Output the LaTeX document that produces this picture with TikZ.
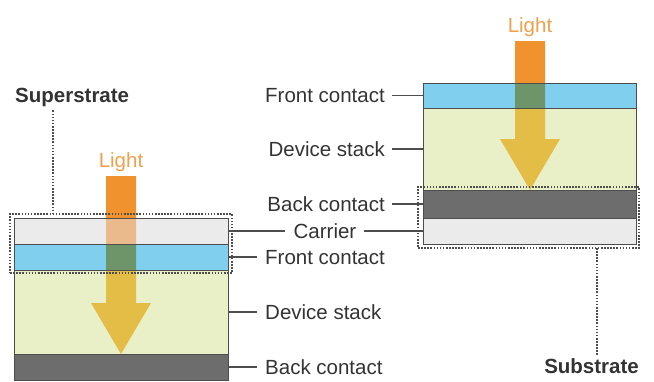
\documentclass[tikz,border=0pt]{standalone}
\usepackage{fontspec}
\setmainfont{Liberation Sans}
\usetikzlibrary{calc}

\definecolor{carrierc}{HTML}{EBEBEB}
\definecolor{frontc}{HTML}{80CFEF}
\definecolor{devc}{HTML}{E9EFC7}
\definecolor{backc}{HTML}{6D6D6D}
\definecolor{edgec}{HTML}{4D4D4D}
\definecolor{textc}{HTML}{333333}
\definecolor{lightc}{HTML}{F0A04C}
\definecolor{beamc}{HTML}{F0922E}
\definecolor{beamcarrier}{HTML}{EAB98C}
\definecolor{beamfront}{HTML}{6E946A}
\definecolor{beamdev}{HTML}{E4BD47}

% outline of a downward light beam: centre x, top y, tip y
\newcommand\beampath[3]{%
  (#1-15,#2) -- (#1+15,#2) -- (#1+15,#3-51) -- (#1+30,#3-51) --
  (#1,#3) -- (#1-30,#3-51) -- (#1-15,#3-51) -- cycle}

\tikzset{
  layer/.style={anchor=north west, inner sep=0pt, outer sep=0pt, draw=none},
  edge/.style={draw=edgec, line width=1pt},
  lead/.style={draw=edgec, line width=1.1pt},
  dotline/.style={draw=edgec, line width=1.7pt, dash pattern=on 1.6pt off 1.5pt},
  dotbox/.style={dotline, anchor=north west, inner sep=0pt, outer sep=0pt},
  lbl/.style={font=\fontsize{20.5}{24}\selectfont, text=textc, inner sep=0pt,
    text height=14.7pt, text depth=0pt},
  title/.style={font=\fontsize{20.5}{24}\selectfont\bfseries, text=textc, inner sep=0pt},
  lighttxt/.style={font=\fontsize{20.5}{24}\selectfont, text=lightc, inner sep=0pt}
}

\begin{document}
\begin{tikzpicture}[x=1pt,y=-1pt]
\useasboundingbox (0,0) rectangle (654,381);

% superstrate cell: carrier on top, light enters through it
\node[layer,fill=carrierc,minimum width=214pt,minimum height=26pt] (lcar)   at (14,218) {};
\node[layer,fill=frontc,  minimum width=214pt,minimum height=26pt] (lfront) at (14,244) {};
\node[layer,fill=devc,    minimum width=214pt,minimum height=84pt] (ldev)   at (14,270) {};
\node[layer,fill=backc,   minimum width=214pt,minimum height=26pt] (lback)  at (14,354) {};

% substrate cell: carrier at the bottom
\node[layer,fill=frontc,  minimum width=213pt,minimum height=25pt] (rfront) at (423,83) {};
\node[layer,fill=devc,    minimum width=213pt,minimum height=82pt] (rdev)   at (423,108) {};
\node[layer,fill=backc,   minimum width=213pt,minimum height=28pt] (rback)  at (423,190) {};
\node[layer,fill=carrierc,minimum width=213pt,minimum height=26pt] (rcar)   at (423,218) {};

% light beams, tinted by the layers they pass
\begin{scope}
  \clip \beampath{121}{176}{354};
  \fill[beamc]       (0,0)   rectangle (654,218);
  \fill[beamcarrier] (0,218) rectangle (654,244);
  \fill[beamfront]   (0,244) rectangle (654,270);
  \fill[beamdev]     (0,270) rectangle (654,381);
\end{scope}
\begin{scope}
  \clip \beampath{530}{41}{190};
  \fill[beamc]     (300,0)  rectangle (654,83);
  \fill[beamfront] (300,83) rectangle (654,108);
  \fill[beamdev]   (300,108) rectangle (654,381);
\end{scope}

% layer outlines
\foreach \n in {lcar,lfront,ldev,lback,rfront,rdev,rback,rcar}
  \draw[edge] (\n.north west) rectangle (\n.south east);

% dotted groupings
\node[dotbox,minimum width=222pt,minimum height=59pt] (supbox) at (10,214) {};
\node[dotbox,minimum width=221pt,minimum height=61pt] (subbox) at (418,187) {};

% beam captions
\node[lighttxt,anchor=base] (llight) at (121,167) {Light};
\node[lighttxt,anchor=base] (rlight) at (530,32) {Light};

% group titles
\node[title,anchor=base west] (supl) at (15,102) {Superstrate};
\node[title,anchor=base east] (subl) at (639,373) {Substrate};
\coordinate (suptick) at (53,214);
\coordinate (subtick) at (597,248);
\draw[dotline,shorten <=4pt] (suptick |- supl.south) -- (suptick);
\draw[dotline,shorten >=3pt] (subtick) -- (subtick |- subl.north);

% layer labels
\node[lbl,anchor=west] (lfrontl) at (265,257) {Front contact};
\node[lbl,anchor=west] (ldevl)   at (265,312) {Device stack};
\node[lbl,anchor=west] (lbackl)  at (265,367) {Back contact};
\node[lbl] (carl) at (325,231) {Carrier};
\node[lbl,anchor=east] (rfrontl) at (385,95.5) {Front contact};
\node[lbl,anchor=east] (rdevl)   at (385,149) {Device stack};
\node[lbl,anchor=east] (rbackl)  at (385,204) {Back contact};

% leader lines
\draw[lead,shorten >=8pt] (lfront.east) -- (lfront.east -| lfrontl.west);
\draw[lead,shorten >=8pt] (ldev.east)   -- (ldev.east -| ldevl.west);
\draw[lead,shorten >=8pt] (lback.east)  -- (lback.east -| lbackl.west);
\draw[lead,shorten >=8pt] (lcar.east)   -- (lcar.east -| carl.west);
\draw[lead,shorten <=7pt] (carl.east)   -- (carl.east -| rcar.west);
\draw[lead,shorten <=7pt] (rfrontl.east) -- (rfrontl.east -| rfront.west);
\draw[lead,shorten <=7pt] (rdevl.east)   -- (rdevl.east -| rdev.west);
\draw[lead,shorten <=7pt] (rbackl.east)  -- (rbackl.east -| rback.west);
\end{tikzpicture}
\end{document}
